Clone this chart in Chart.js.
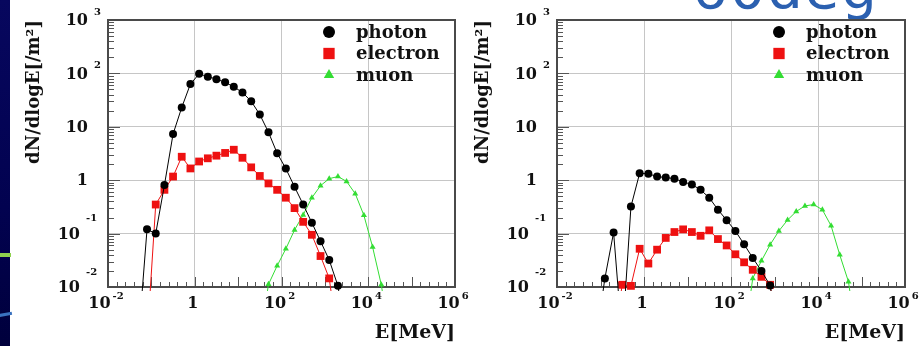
<!DOCTYPE html>
<html>
<head>
<meta charset="utf-8">
<script src="https://cdn.jsdelivr.net/npm/chart.js@4.4.1/dist/chart.umd.min.js"></script>
<style>
  html, body { margin: 0; padding: 0; background: #fff; }
  #page { position: relative; width: 924px; height: 346px; overflow: hidden; background: #fff; filter: blur(0.5px); }
  #strip { position: absolute; left: 0; top: 0; width: 10px; height: 346px; background: linear-gradient(#07075e, #020250 60%, #00003c); }
  #greenbar { position: absolute; left: 0; top: 253px; width: 11px; height: 4px; background: #8fd14f; }
  #streak { position: absolute; left: -2px; top: 313px; width: 14px; height: 3px; background: #3a72c0; transform: rotate(-10deg); }
  #title { position: absolute; left: 692px; top: -44px; font: 56px "DejaVu Sans"; letter-spacing: 2px; color: #2b60b0; white-space: nowrap; }
  canvas { position: absolute; top: 0; }
  #left { left: 10px; }
  #right { left: 470px; }
</style>
</head>
<body>
<div id="page">
  <div id="strip"></div>
  <div id="greenbar"></div>
  <div id="streak"></div>
  <div id="title">60deg</div>
  <canvas id="left" width="460" height="346"></canvas>
  <canvas id="right" width="454" height="346"></canvas>
</div>
<script>
// energy bin centres [MeV], 0.2 decade bins
const energy = [0.0501, 0.0794, 0.126, 0.2, 0.316, 0.501, 0.794, 1.26, 2.0, 3.16, 5.01, 7.94,
    12.6, 20.0, 31.6, 50.1, 79.4, 126, 200, 316, 501, 794, 1260, 2000, 3160, 5010, 7940,
    12600, 20000, 31600, 50100, 79400]

// dN/dlogE [/m2]; 0.001 = empty bin (line drops below the frame), null = not drawn
const photonLeft = [0.001, 0.12, 0.10, 0.81, 7.3, 23, 63, 98, 87, 78, 68, 56, 44, 30, 17, 7.9,
    3.2, 1.65, 0.75, 0.35, 0.16, 0.072, 0.032, 0.0105, 0.001, null, null, null, null, null, null, null]
const electronLeft = [null, 0.001, 0.35, 0.66, 1.17, 2.75, 1.66, 2.24, 2.57, 2.88, 3.24, 3.72, 2.63,
    1.74, 1.2, 0.87, 0.66, 0.47, 0.30, 0.166, 0.095, 0.038, 0.0145, 0.001, null, null, null, null, null, null, null, null]
const muonLeft = [null, null, null, null, null, null, null, null, null, null, null, null, null, null,
    0.001, 0.0112, 0.025, 0.052, 0.117, 0.224, 0.47, 0.79, 1.07, 1.17, 0.95, 0.56, 0.22, 0.056, 0.011, 0.001, null, null]

const photonRight = [null, 0.001, 0.0145, 0.105, 0.001, 0.32, 1.35, 1.32, 1.17, 1.12, 1.07, 0.93, 0.83,
    0.66, 0.47, 0.28, 0.178, 0.112, 0.063, 0.035, 0.020, 0.0107, 0.001, null, null, null, null, null, null, null, null, null]
const electronRight = [null, null, null, 0.001, 0.011, 0.0105, 0.052, 0.0275, 0.05, 0.083, 0.107, 0.12, 0.107,
    0.091, 0.115, 0.079, 0.060, 0.041, 0.029, 0.021, 0.0155, 0.011, 0.001, null, null, null, null, null, null, null, null, null]
const muonRight = [null, null, null, null, null, null, null, null, null, null, null, null, null, null,
    null, null, null, null, 0.001, 0.0145, 0.031, 0.062, 0.112, 0.18, 0.26, 0.33, 0.35, 0.28, 0.14, 0.040, 0.0126, 0.001]

const seriesNames = ['photon', 'electron', 'muon']

// axis ticks
const xTickValues = [1e-2, 1, 1e2, 1e4, 1e6]
const xTickBase = ['10', '1', '10', '10', '10']
const xTickExp = ['-2', '', '2', '4', '6']
const yTickValues = [1e-2, 1e-1, 1, 10, 1e2, 1e3]
const yTickBase = ['10', '10', '1', '10', '10', '10']
const yTickExp = ['-2', '-1', '', '', '2', '3']

const styles = [
    { color: '#000000', pointStyle: 'circle', radius: 4, legendRadius: 6 },
    { color: '#ee1111', pointStyle: 'rect', radius: 5.5, legendRadius: 8 },
    { color: '#33dd33', pointStyle: 'triangle', radius: 3.5, legendRadius: 6 },
]

const SERIF = '"DejaVu Serif", serif'

const rootFrame = {
    id: 'rootFrame',
    beforeDatasetsDraw(chart) {
        const { ctx, chartArea: a, scales: { x, y } } = chart
        ctx.save()
        ctx.strokeStyle = '#555'
        ctx.lineWidth = 1
        ctx.beginPath()
        // log minor ticks on y
        for (let d = -2; d < 3; d++) {
            for (let m = 1; m < 10; m++) {
                const py = Math.round(y.getPixelForValue(m * Math.pow(10, d))) + 0.5
                const len = m === 1 ? 12 : 6
                ctx.moveTo(a.left, py)
                ctx.lineTo(a.left + len, py)
            }
        }
        // x ticks every 0.2 decade
        for (let k = 0; k <= 40; k++) {
            const px = Math.round(x.getPixelForValue(Math.pow(10, -2 + k * 0.2))) + 0.5
            const len = k % 5 === 0 ? 10 : 5
            ctx.moveTo(px, a.bottom)
            ctx.lineTo(px, a.bottom - len)
        }
        ctx.stroke()
        ctx.lineWidth = 2
        ctx.strokeStyle = '#4a4a4a'
        ctx.strokeRect(a.left, a.top, a.right - a.left, a.bottom - a.top)
        ctx.restore()
    },
    afterDraw(chart) {
        const { ctx, chartArea: a, scales: { x, y } } = chart
        ctx.save()
        ctx.fillStyle = '#111'
        ctx.textBaseline = 'middle'

        // y tick labels
        yTickValues.forEach((v, i) => {
            const py = y.getPixelForValue(v)
            const neg = yTickExp[i].startsWith('-')
            ctx.font = 'bold 16px ' + SERIF
            ctx.textAlign = 'right'
            ctx.fillText(yTickBase[i], a.left - (neg ? 28 : 20), py + 1)
            if (yTickExp[i]) {
                ctx.font = 'bold 10px ' + SERIF
                ctx.textAlign = 'left'
                ctx.fillText(yTickExp[i], a.left - (neg ? 22 : 14), py - (neg ? 15 : 8))
            }
        })

        // x tick labels
        xTickValues.forEach((v, i) => {
            const px = x.getPixelForValue(v) - 2
            ctx.font = 'bold 16px ' + SERIF
            const wb = ctx.measureText(xTickBase[i]).width
            ctx.font = 'bold 10px ' + SERIF
            const we = xTickExp[i] ? ctx.measureText(xTickExp[i]).width + 2 : 0
            const left = px - (wb + we) / 2
            ctx.textAlign = 'left'
            ctx.font = 'bold 16px ' + SERIF
            ctx.fillText(xTickBase[i], left, a.bottom + 17)
            if (xTickExp[i]) {
                ctx.font = 'bold 10px ' + SERIF
                ctx.fillText(xTickExp[i], left + wb + 2, a.bottom + 9)
            }
        })

        // axis titles
        ctx.font = 'bold 19px ' + SERIF
        ctx.textAlign = 'right'
        ctx.fillText('E[MeV]', a.right, a.bottom + 46)

        ctx.save()
        ctx.translate(a.left - 74, a.top)
        ctx.rotate(-Math.PI / 2)
        ctx.font = 'bold 18px ' + SERIF
        ctx.textAlign = 'right'
        ctx.fillText('dN/dlogE[/m²]', 0, 0)
        ctx.restore()

        // legend
        seriesNames.forEach((name, i) => {
            const s = styles[i]
            const ly = a.top + 12 + i * 21.5
            ctx.fillStyle = s.color
            ctx.strokeStyle = s.color
            Chart.helpers.drawPoint(ctx, { pointStyle: s.pointStyle, radius: s.legendRadius, rotation: 0, borderWidth: 0 }, a.right - 126, ly)
            ctx.fillStyle = '#111'
            ctx.font = 'bold 18px ' + SERIF
            ctx.textAlign = 'left'
            ctx.fillText(name, a.right - 99, ly + 1)
        })
        ctx.restore()
    }
}

function toPoints(vals) {
    return energy.map((e, i) => ({ x: e, y: vals[i] })).filter(p => p.y !== null)
}

function makeChart(id, series, padRight, yWidth) {
    return new Chart(document.getElementById(id), {
        type: 'scatter',
        data: {
            datasets: series.map((vals, i) => ({
                label: seriesNames[i],
                data: toPoints(vals),
                showLine: true,
                borderColor: styles[i].color,
                borderWidth: 1,
                backgroundColor: styles[i].color,
                pointBackgroundColor: styles[i].color,
                pointBorderColor: styles[i].color,
                pointBorderWidth: 0,
                pointStyle: styles[i].pointStyle,
                pointRadius: styles[i].radius,
                tension: 0,
                clip: { left: 0, top: 0, right: 0, bottom: 4 },
            }))
        },
        options: {
            responsive: false,
            animation: false,
            layout: { padding: { top: 20, right: padRight, left: 0, bottom: 0 } },
            plugins: { legend: { display: false }, tooltip: { enabled: false } },
            scales: {
                x: {
                    type: 'logarithmic', min: 1e-2, max: 1e6,
                    afterBuildTicks: s => { s.ticks = xTickValues.map(v => ({ value: v })) },
                    afterFit: s => { s.height = 59 },
                    ticks: { display: false },
                    grid: { color: '#c6c6c6', lineWidth: 1, drawTicks: false },
                    border: { display: false },
                },
                y: {
                    type: 'logarithmic', min: 1e-2, max: 1e3,
                    afterBuildTicks: s => { s.ticks = yTickValues.map(v => ({ value: v })) },
                    afterFit: s => { s.width = yWidth },
                    ticks: { display: false },
                    grid: { color: '#c6c6c6', lineWidth: 1, drawTicks: false },
                    border: { display: false },
                }
            }
        },
        plugins: [rootFrame]
    })
}

makeChart('left', [photonLeft, electronLeft, muonLeft], 15, 98)
makeChart('right', [photonRight, electronRight, muonRight], 19, 87)
</script>
</body>
</html>
